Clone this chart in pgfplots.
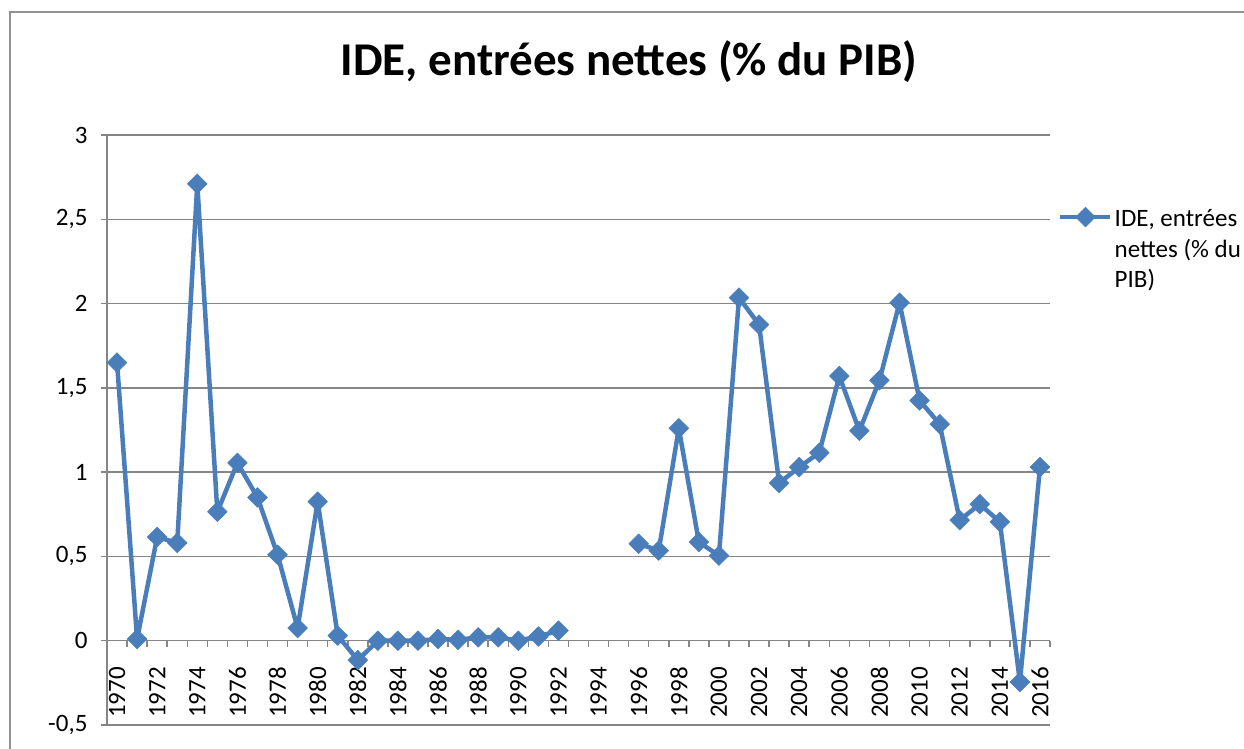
\documentclass[border=0pt]{standalone}
\usepackage{fontspec}
\setmainfont{Carlito}
\usepackage{pgfplots}
\pgfplotsset{compat=1.18}
\definecolor{serie}{RGB}{74,126,187}
\definecolor{grille}{RGB}{134,134,134}
\begin{document}
\begin{tikzpicture}
\useasboundingbox (0,0) rectangle (1244bp,749bp);
\clip (0,0) rectangle (1244bp,749bp);
\draw[grille!90, line width=1.5bp] (10bp,-5bp) -- (10bp,737bp) -- (1260bp,737bp);
\node[font=\fontsize{47bp}{56bp}\selectfont\bfseries, anchor=base] at (629bp,673bp) {IDE, entrées nettes (\% du PIB)};
\begin{axis}[
  at={(107bp,24bp)}, anchor=south west,
  scale only axis, width=943bp, height=590bp,
  xmin=-0.5, xmax=46.5, ymin=-0.5, ymax=3,
  axis x line=middle, axis y line=left,
  axis line style={-, grille, line width=1.5bp},
  ymajorgrids, grid style={grille, line width=1.5bp},
  ytick={-0.5,0,0.5,1,1.5,2,2.5,3},
  xtick={0,2,...,46},
  xticklabels={1970,1972,1974,1976,1978,1980,1982,1984,1986,1988,1990,1992,1994,1996,1998,2000,2002,2004,2006,2008,2010,2012,2014,2016},
  minor xtick={-0.5,0.5,...,46.5},
  major x tick style={draw=none},
  minor x tick style={grille, line width=1.5bp},
  y tick style={grille, line width=1.5bp},
  tick align=outside,
  major tick length=6bp, minor tick length=6bp,
  /pgf/number format/assume math mode=true,
  /pgf/number format/use comma,
  tick label style={font=\fontsize{25bp}{30bp}\selectfont},
  yticklabel style={anchor=east, xshift=-10bp},
  xticklabel style={yshift=-17bp, rotate=90, anchor=east},
  unbounded coords=jump,
  legend style={draw=none, fill=none, inner sep=0pt, at={(1.0085,0.884)}, anchor=north west,
    font=\fontsize{25bp}{30.5bp}\selectfont},
  legend cell align=left,
  legend image code/.code={\draw[#1, mark repeat=2, mark phase=2] plot coordinates {(0bp,0bp) (25bp,0bp) (50bp,0bp)};},
]
\addplot[serie, line width=4.5bp, line join=round, mark=square*, mark size=7bp, mark options={rotate=45, solid, fill=serie, draw=serie, line width=0.5bp}] coordinates {
(0,1.65) (1,0.01) (2,0.615) (3,0.58) (4,2.71) (5,0.765) (6,1.055) (7,0.85) (8,0.51) (9,0.075)
(10,0.825) (11,0.03) (12,-0.115) (13,0.0) (14,0.0) (15,0.0) (16,0.01) (17,0.005) (18,0.02) (19,0.02)
(20,0.0) (21,0.025) (22,0.06) (23,nan) (24,nan) (25,nan) (26,0.575) (27,0.535) (28,1.26) (29,0.585)
(30,0.505) (31,2.035) (32,1.875) (33,0.935) (34,1.03) (35,1.115) (36,1.57) (37,1.245) (38,1.545) (39,2.005)
(40,1.425) (41,1.285) (42,0.715) (43,0.81) (44,0.705) (45,-0.245) (46,1.03)
};
\addlegendentry{{\begin{tabular}[t]{@{}l@{}}IDE, entrées\\nettes (\% du\\PIB)\end{tabular}}}
\end{axis}
\end{tikzpicture}
\end{document}
